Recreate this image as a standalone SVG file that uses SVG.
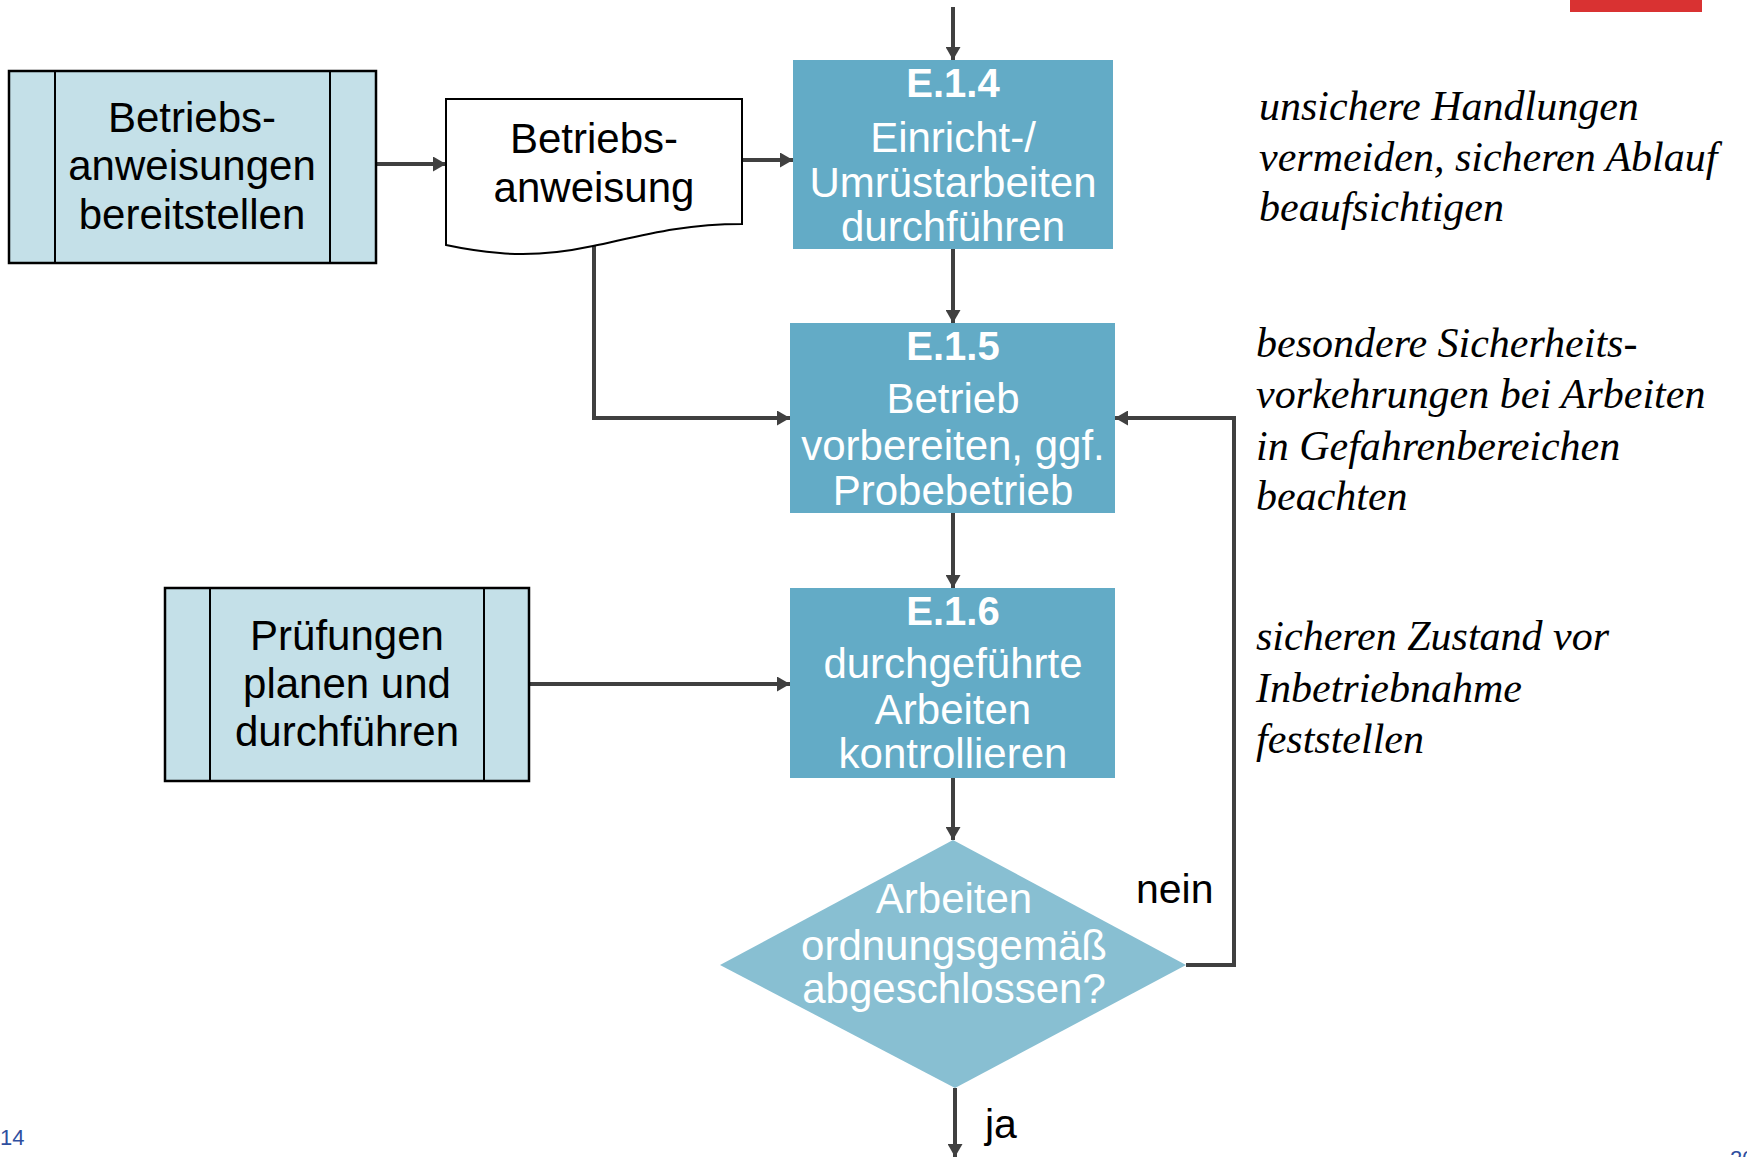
<svg xmlns="http://www.w3.org/2000/svg" width="1747" height="1157" viewBox="0 0 1747 1157">
<style>
.sans{font-family:"Liberation Sans",Arial,sans-serif;font-size:42px;text-anchor:middle}
.blk{fill:#000}
.wht{fill:#fff}
.bold{font-weight:bold;font-size:40px}
.note{font-family:"Liberation Serif","Times New Roman",serif;font-style:italic;font-size:42px;fill:#000}
.sub{fill:#C4E0E8;stroke:#000;stroke-width:2.5}
.proc{fill:#63ABC6}
.dec{fill:#88BFD2}
.doc{fill:#fff;stroke:#000;stroke-width:2}
.conn{fill:none;stroke:#404040;stroke-width:4;marker-end:url(#arr)}
.pg{font-family:"Liberation Sans",Arial,sans-serif;font-size:22px;fill:#2F4F9F}
</style>
<defs>
<marker id="arr" markerUnits="userSpaceOnUse" markerWidth="13" markerHeight="15" refX="13" refY="7.5" orient="auto">
<path d="M0,0 L13,7.5 L0,15 z" fill="#404040"/>
</marker>
</defs>
<rect x="0" y="0" width="1747" height="1157" fill="#fff"/>
<rect x="1570" y="0" width="132" height="12" fill="#D93232"/>

<g id="connectors">
<path class="conn" d="M953,7 V60"/>
<path class="conn" d="M376,164 H446"/>
<path class="conn" d="M742,160 H793"/>
<path class="conn" d="M953,249 V323"/>
<path class="conn" d="M594,244 V418 H790"/>
<path class="conn" d="M953,513 V588"/>
<path class="conn" d="M529,684 H790"/>
<path class="conn" d="M953,778 V840"/>
<path class="conn" d="M1186,965 H1234 V418 H1115"/>
<path class="conn" d="M955,1088 V1157"/>
</g>

<g id="n_bereitstellen">
<rect class="sub" x="9" y="71" width="367" height="192"/>
<line x1="55" y1="71" x2="55" y2="263" stroke="#000" stroke-width="2"/>
<line x1="330" y1="71" x2="330" y2="263" stroke="#000" stroke-width="2"/>
<text class="sans blk" x="192" y="132">Betriebs-</text>
<text class="sans blk" x="192" y="180">anweisungen</text>
<text class="sans blk" x="192" y="229">bereitstellen</text>
</g>

<g id="n_dokument">
<path class="doc" d="M446,99 H742 V224 C680,224 640,236 593,246 C560,253 530,256 500,253 C475,251 460,248 446,245 Z"/>
<text class="sans blk" x="594" y="153">Betriebs-</text>
<text class="sans blk" x="594" y="202">anweisung</text>
</g>

<g id="n_E14">
<rect class="proc" x="793" y="60" width="320" height="189"/>
<text class="sans wht bold" x="953" y="97">E.1.4</text>
<text class="sans wht" x="953" y="152">Einricht-/</text>
<text class="sans wht" x="953" y="197">Umrüstarbeiten</text>
<text class="sans wht" x="953" y="241">durchführen</text>
</g>

<g id="n_E15">
<rect class="proc" x="790" y="323" width="325" height="190"/>
<text class="sans wht bold" x="953" y="360">E.1.5</text>
<text class="sans wht" x="953" y="413">Betrieb</text>
<text class="sans wht" x="953" y="460">vorbereiten, ggf.</text>
<text class="sans wht" x="953" y="505">Probebetrieb</text>
</g>

<g id="n_E16">
<rect class="proc" x="790" y="588" width="325" height="190"/>
<text class="sans wht bold" x="953" y="625">E.1.6</text>
<text class="sans wht" x="953" y="678">durchgeführte</text>
<text class="sans wht" x="953" y="724">Arbeiten</text>
<text class="sans wht" x="953" y="768">kontrollieren</text>
</g>

<g id="n_pruefungen">
<rect class="sub" x="165" y="588" width="364" height="193"/>
<line x1="210" y1="588" x2="210" y2="781" stroke="#000" stroke-width="2"/>
<line x1="484" y1="588" x2="484" y2="781" stroke="#000" stroke-width="2"/>
<text class="sans blk" x="347" y="650">Prüfungen</text>
<text class="sans blk" x="347" y="698">planen und</text>
<text class="sans blk" x="347" y="746">durchführen</text>
</g>

<g id="n_entscheidung">
<polygon class="dec" points="953,840 1186,965 955,1088 720,965"/>
<text class="sans wht" x="954" y="913">Arbeiten</text>
<text class="sans wht" x="954" y="960">ordnungsgemäß</text>
<text class="sans wht" x="954" y="1003">abgeschlossen?</text>
</g>

<g id="labels">
<text class="sans blk" x="1136" y="903" style="text-anchor:start;font-size:41px">nein</text>
<text class="sans blk" x="985" y="1138" style="text-anchor:start;font-size:41px">ja</text>
</g>

<g id="notes">
<text class="note" x="1259" y="120">unsichere Handlungen</text>
<text class="note" x="1259" y="171">vermeiden, sicheren Ablauf</text>
<text class="note" x="1259" y="221">beaufsichtigen</text>
<text class="note" x="1256" y="357">besondere Sicherheits-</text>
<text class="note" x="1256" y="408">vorkehrungen bei Arbeiten</text>
<text class="note" x="1256" y="460">in Gefahrenbereichen</text>
<text class="note" x="1256" y="510">beachten</text>
<text class="note" x="1256" y="650">sicheren Zustand vor</text>
<text class="note" x="1256" y="702">Inbetriebnahme</text>
<text class="note" x="1256" y="753">feststellen</text>
</g>

<text class="pg" x="0" y="1145">14</text>
<text class="pg" x="1730" y="1166">20</text>
</svg>
